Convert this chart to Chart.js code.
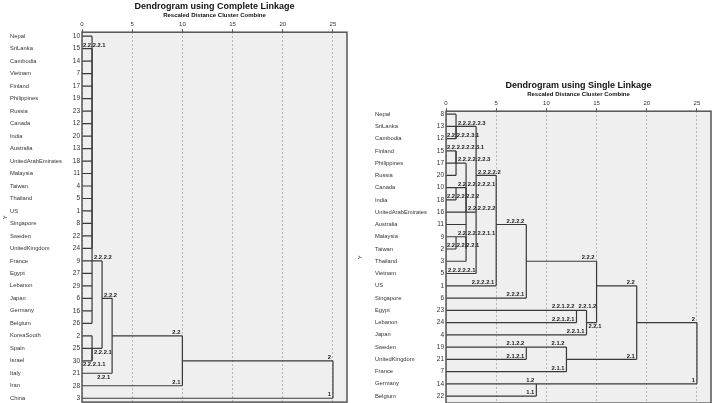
<!DOCTYPE html>
<html>
<head>
<meta charset="utf-8">
<script src="https://cdn.jsdelivr.net/npm/chart.js@4.4.1/dist/chart.umd.min.js"></script>
<style>
body { margin: 0; background: #fff; width: 714px; height: 403px; overflow: hidden; position: relative; }
.box { position: absolute; }
#left { left: 0; top: 0; width: 352px; height: 408px; }
#right { left: 355px; top: 79px; width: 359px; height: 330px; }
</style>
</head>
<body>
<div class="box" id="left"><canvas id="complete"></canvas></div>
<div class="box" id="right"><canvas id="single"></canvas></div>
<script>
// --- Complete linkage (left) ---
const completeCountries = ['Nepal', 'SriLanka', 'Cambodia', 'Vietnam', 'Finland', 'Philippines', 'Russia', 'Canada', 'India', 'Australia',
  'UnitedArabEmirates', 'Malaysia', 'Taiwan', 'Thailand', 'US', 'Singapore', 'Sweden', 'UnitedKingdom', 'France', 'Egypt',
  'Lebanon', 'Japan', 'Germany', 'Belgium', 'KoreaSouth', 'Spain', 'Israel', 'Italy', 'Iran', 'China'];
const completeCases = [10, 15, 14, 7, 17, 19, 23, 12, 20, 13, 18, 11, 4, 5, 1, 8, 22, 24, 9, 27, 29, 6, 16, 26, 2, 25, 30, 21, 28, 3];
const completeLeafTags = ['', '', '', '', '', '', '', '', '', '', '', '', '', '', '', '', '', '', '', '',
  '', '', '', '', '', '', '', '2.2.1', '2.1', '1'];
// merges: name, rescaled distance, row of the outgoing line, members (leaf rows or earlier merges)
const completeMerges = [
  ['2.2.2.2.1', 1, 1, [0, 1, 2, 3, 4, 5, 6, 7, 8, 9, 10, 11, 12, 13, 14, 15, 16, 17]],
  ['2.2.2.2', 1, 18, ['2.2.2.2.1', 18, 19, 20, 21, 22, 23]],
  ['2.2.2.1.1', 1, 26, [24, 26]],
  ['2.2.2.1', 1, 25, ['2.2.2.1.1', 25]],
  ['2.2.2', 2, 21, ['2.2.2.2', '2.2.2.1']],
  ['2.2', 3, 24, ['2.2.2', 27]],
  ['2', 10, 26, ['2.2', 28]],
  ['', 25, 27.5, ['2', 29]]
];
const completeBelow = ['2.2.2.1', '2.2.2.1.1', '2.2.1'];

// --- Single linkage (right) ---
const singleCountries = ['Nepal', 'SriLanka', 'Cambodia', 'Finland', 'Philippines', 'Russia', 'Canada', 'India', 'UnitedArabEmirates', 'Australia',
  'Malaysia', 'Taiwan', 'Thailand', 'Vietnam', 'US', 'Singapore', 'Egypt', 'Lebanon', 'Japan', 'Sweden',
  'UnitedKingdom', 'France', 'Germany', 'Belgium'];
const singleCases = [8, 13, 12, 15, 17, 20, 10, 18, 16, 11, 9, 2, 3, 5, 1, 6, 23, 24, 4, 19, 21, 7, 14, 22];
const singleLeafTags = ['', '', '', '', '', '', '', '', '', '', '', '', '', '2.2.2.2.2.1', '2.2.2.2.1', '2.2.2.1',
  '2.2.1.2.2', '2.2.1.2.1', '2.2.1.1', '2.1.2.2', '2.1.2.1', '2.1.1', '1.2', '1.1'];
const singleMerges = [
  ['2.2.2.2.2.3.1', 1, 2, [1, 2]],
  ['2.2.2.2.2.3', 1, 1, [0, '2.2.2.2.2.3.1']],
  ['2.2.2.2.2.2.3.1', 1, 3, [3, 5]],
  ['2.2.2.2.2.2.3', 1, 4, ['2.2.2.2.2.2.3.1', 4]],
  ['2.2.2.2.2.2.2.1', 1, 6, [6, 7]],
  ['2.2.2.2.2.2.2', 2, 7, ['2.2.2.2.2.2.2.1', 8]],
  ['2.2.2.2.2.2.1.1', 1, 10, [10, 11]],
  ['2.2.2.2.2.2.1', 2, 11, ['2.2.2.2.2.2.1.1', 12]],
  ['2.2.2.2.2.2', 2, 8, ['2.2.2.2.2.2.3', '2.2.2.2.2.2.2', 9, '2.2.2.2.2.2.1']],
  ['2.2.2.2.2', 3, 5, ['2.2.2.2.2.3', '2.2.2.2.2.2', 13]],
  ['2.2.2.2', 5, 9, ['2.2.2.2.2', 14]],
  ['2.2.2', 8, 12, ['2.2.2.2', 15]],
  ['2.2.1.2', 13, 16, [16, 17]],
  ['2.2.1', 14, 17, ['2.2.1.2', 18]],
  ['2.2', 15, 14, ['2.2.2', '2.2.1']],
  ['2.1.2', 8, 19, [19, 20]],
  ['2.1', 12, 20, ['2.1.2', 21]],
  ['2', 19, 17, ['2.2', '2.1']],
  ['1', 9, 22, [22, 23]],
  ['', 25, 19.5, ['2', '1']]
];
const singleBelow = ['2.2.1'];

const distanceTicks = [0, 5, 10, 15, 20, 25];

const FONT = '"Liberation Sans", Arial, sans-serif';
Chart.defaults.font.family = FONT;

// horizontal + vertical pieces of every merge
function segmentsFor(merges) {
  const done = {};
  const segs = [];
  merges.forEach(([name, dist, row, kids]) => {
    const rows = kids.map(k => typeof k === 'number' ? k : done[k].row);
    kids.forEach((k, i) => {
      const from = typeof k === 'number' ? 0 : done[k].dist;
      if (dist > from) segs.push([{x: from, y: rows[i]}, {x: dist, y: rows[i]}]);
    });
    segs.push([{x: dist, y: Math.min(...rows)}, {x: dist, y: Math.max(...rows)}]);
    done[name] = {dist, row};
  });
  return segs;
}

function tagsFor(merges, leafTags) {
  const parentOf = k => merges.find(m => m[3].includes(k));
  const out = [];
  leafTags.forEach((t, i) => {
    if (t) out.push({text: t, from: 0, to: parentOf(i)[1], row: i});
  });
  merges.forEach(([name, dist, row]) => {
    const p = parentOf(name);
    if (name && p) out.push({text: name, from: dist, to: p[1], row});
  });
  return out;
}

function dendroPlugin(merges, leafTags, below) {
  const tags = tagsFor(merges, leafTags);
  return {
    id: 'dendro',
    beforeDraw(chart) {
      const {ctx, chartArea: a} = chart;
      ctx.save();
      ctx.fillStyle = '#efefef';
      ctx.fillRect(a.left, a.top, a.right - a.left, a.bottom - a.top);
      ctx.restore();
    },
    afterDatasetsDraw(chart) {
      const {ctx, chartArea: a} = chart;
      const xs = chart.scales.x, ys = chart.scales.y;
      ctx.save();
      ctx.strokeStyle = '#555';
      ctx.lineWidth = 1.5;
      ctx.strokeRect(a.left, a.top, a.right - a.left, a.bottom - a.top);
      ctx.fillStyle = '#1a1a1a';
      ctx.font = 'bold 5.8px ' + FONT;
      const zero = xs.getPixelForValue(0);
      tags.forEach(t => {
        const x0 = xs.getPixelForValue(t.from), x1 = xs.getPixelForValue(t.to);
        const y = ys.getPixelForValue(t.row);
        const w = ctx.measureText(t.text).width;
        const left = x1 - x0 < 1 ? Math.max(zero + 1, x1 - 2 - w) : Math.max(x0 + 2, x1 - 2 - w);
        const under = below.includes(t.text);
        ctx.textBaseline = under ? 'top' : 'bottom';
        ctx.fillText(t.text, left, under ? y + 1 : y - 0.5);
      });
      ctx.restore();
    },
    afterDraw(chart) {
      const {ctx, chartArea: a} = chart;
      ctx.save();
      ctx.fillStyle = '#333';
      ctx.font = '6px ' + FONT;
      ctx.translate(5, (a.top + a.bottom) / 2);
      ctx.rotate(-Math.PI / 2);
      ctx.textAlign = 'center';
      ctx.textBaseline = 'middle';
      ctx.fillText('Y', 0, 0);
      ctx.restore();
    }
  };
}

function drawDendrogram(id, title, countries, cases, merges, leafTags, below, rowMin, rowMax, namesWidth, pad) {
  const rowAxis = (labels, weight, align, width, size) => ({
    type: 'linear', position: 'left', reverse: true, min: rowMin, max: rowMax, weight,
    ticks: {
      stepSize: 1, autoSkip: false, includeBounds: false, padding: 2, crossAlign: align,
      color: '#333', font: {size},
      callback: v => Number.isInteger(v) && labels[v] !== undefined ? labels[v] : ''
    },
    grid: {display: false, drawTicks: false, tickLength: 0},
    border: {display: false},
    afterFit: s => { s.width = width; }
  });
  new Chart(document.getElementById(id), {
    type: 'scatter',
    data: {
      datasets: segmentsFor(merges).map(seg => ({
        data: seg, showLine: true, borderColor: '#383838', borderWidth: 1.2,
        pointRadius: 0, pointHoverRadius: 0
      }))
    },
    options: {
      responsive: true,
      maintainAspectRatio: false,
      animation: false,
      events: [],
      layout: {padding: pad},
      scales: {
        x: {
          type: 'linear', position: 'top', min: 0, max: 26.4,
          afterBuildTicks: s => { s.ticks = distanceTicks.map(v => ({value: v})); },
          ticks: {color: '#333', font: {size: 6}, padding: 1},
          grid: {color: '#b5b5b5', tickColor: '#555', tickLength: 3, tickBorderDash: []},
          border: {display: false, dash: [2, 2]},
          title: {
            display: true, text: 'Rescaled Distance Cluster Combine', color: '#111',
            font: {size: 6, weight: 'bold'}, padding: {top: 0, bottom: 1}
          }
        },
        y: rowAxis(cases, 0, 'near', 14, 6.5),
        names: rowAxis(countries, 1, 'far', namesWidth, 5.8)
      },
      plugins: {
        legend: {display: false},
        tooltip: {enabled: false},
        title: {
          display: true, text: title, fullSize: false, color: '#111',
          font: {size: 9, weight: 'bold'}, padding: {top: 1, bottom: 0}
        }
      }
    },
    plugins: [dendroPlugin(merges, leafTags, below)]
  });
}

drawDendrogram('complete', 'Dendrogram using Complete Linkage', completeCountries, completeCases,
  completeMerges, completeLeafTags, completeBelow, -0.32, 29.31, 58, {left: 10, right: 5, top: 0, bottom: 1});
drawDendrogram('single', 'Dendrogram using Single Linkage', singleCountries, singleCases,
  singleMerges, singleLeafTags, singleBelow, -0.24, 23.57, 57, {left: 20, right: 3, top: 0, bottom: 0});
</script>
</body>
</html>
